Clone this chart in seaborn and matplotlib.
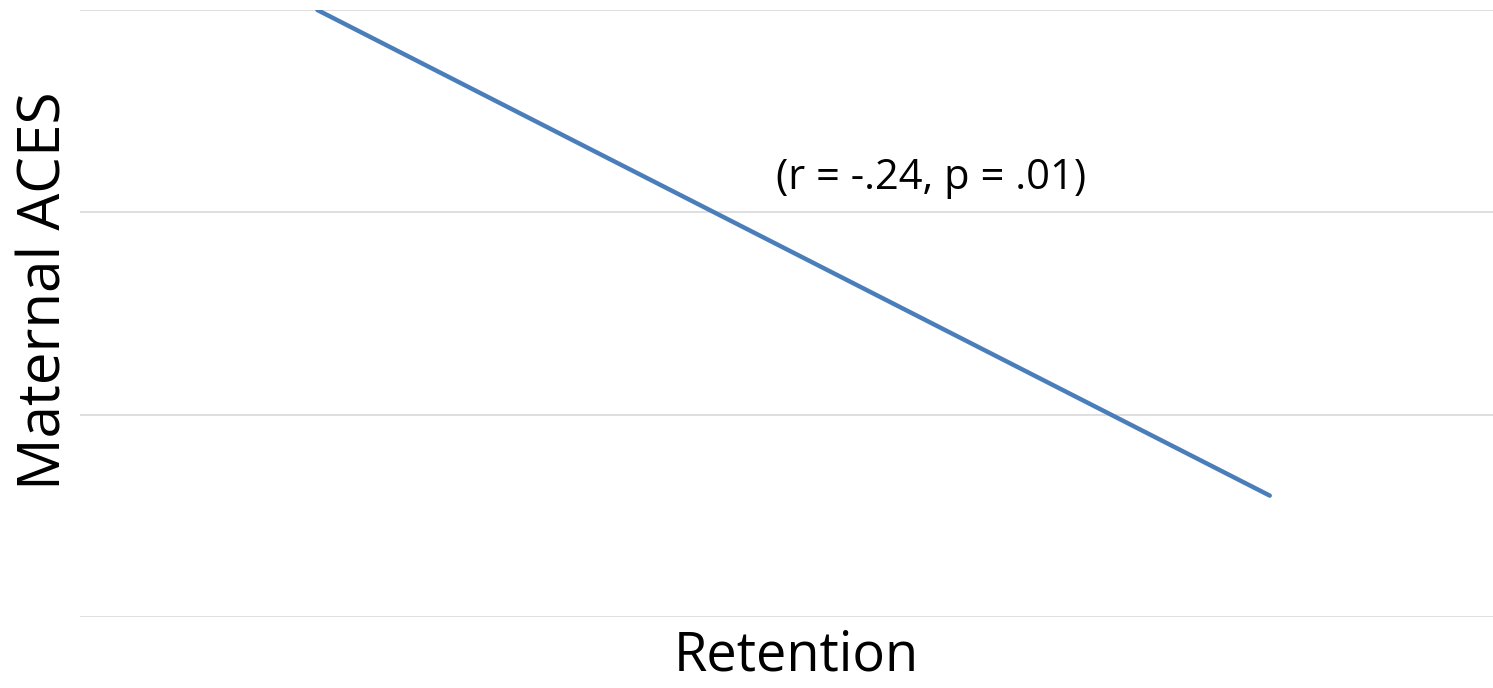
import numpy as np
import pandas as pd
import matplotlib.pyplot as plt
import seaborn as sns

# Values
retention = [0.168, 0.842]
maternal_aces = [3.0, 0.6]
grid_levels = [0, 1, 2, 3]
annotation = '(r = -.24, p = .01)'

df = pd.DataFrame({'Retention': retention, 'Maternal ACES': maternal_aces})

sns.set_style('white')
plt.rcParams['font.family'] = ['Open Sans', 'DejaVu Sans']

fig = plt.figure(figsize=(14.93, 6.88), dpi=100)
ax = fig.add_axes([80 / 1493, 71 / 688, 1 - 80 / 1493, (617 - 10) / 688])

sns.lineplot(data=df, x='Retention', y='Maternal ACES', color='#4a7ebb', linewidth=3.2, ax=ax)

ax.set_xlim(0, 1)
ax.set_ylim(0, 3)
ax.set_yticks(grid_levels)
ax.set_xticks([])
ax.yaxis.grid(True, color='#d9d9d9', linewidth=1.2)
ax.tick_params(left=False, labelleft=False)
for s in ax.spines.values():
    s.set_visible(False)

ax.set_xlabel('Retention', fontsize=39, labelpad=8, color='black', x=0.507)
ax.set_ylabel('Maternal ACES', fontsize=42, labelpad=4, color='black', y=0.537)
ax.text(0.602, 2.17, annotation, fontsize=30, ha='center', va='center', color='black')

fig.savefig('out.png', dpi=100)
